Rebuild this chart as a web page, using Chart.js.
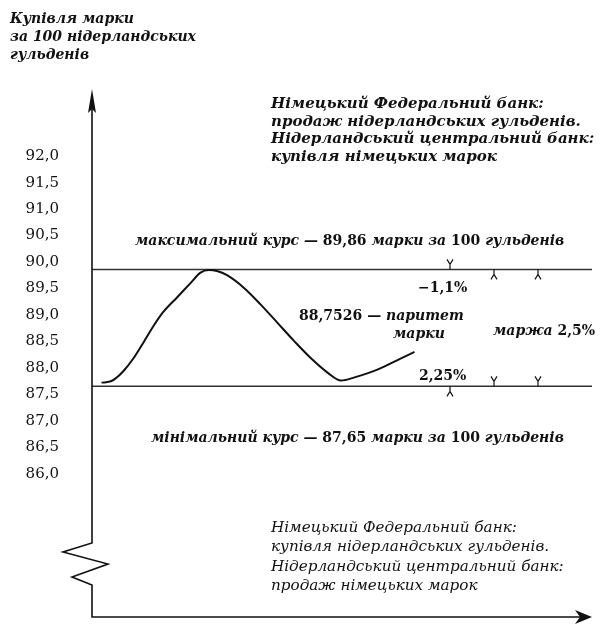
<!DOCTYPE html>
<html>
<head>
<meta charset="utf-8">
<script src="https://cdn.jsdelivr.net/npm/chart.js@4/dist/chart.umd.min.js"></script>
<style>
  html, body { margin: 0; padding: 0; background: #fff; }
  #chart { display: block; }
</style>
</head>
<body>
<canvas id="chart" width="600" height="641"></canvas>
<script>
// exchange rate path (t is just a position along the time axis, 0..100)
const curveT = [1.9, 3.6, 4.6, 6.3, 8.3, 10.3, 12.3, 14.3, 17.0, 19.7, 21.7, 23.4, 25.0,
  27.0, 30.4, 33.7, 37.1, 40.4, 43.8, 47.1, 49.8, 52.5, 57.2, 61.8, 64.5]
const curveRate = [87.72, 87.74, 87.79, 87.94, 88.18, 88.48, 88.79, 89.06, 89.33, 89.60, 89.80, 89.85, 89.83,
  89.75, 89.51, 89.20, 88.85, 88.51, 88.18, 87.91, 87.76, 87.82, 87.97, 88.18, 88.30]

// intervention limits and parity
const maxRate = 89.86
const minRate = 87.65
const parityRate = 88.7526

// y axis tick labels
const yTicks = [86.0, 86.5, 87.0, 87.5, 88.0, 88.5, 89.0, 89.5, 90.0, 90.5, 91.0, 91.5, 92.0]

const serif = '"DejaVu Serif", serif'
const fmt = (v, d) => v.toFixed(d).replace('.', ',')

// draw a line of text made of runs with different fonts
function drawRuns(ctx, runs, x, y) {
  runs.forEach(([text, font]) => {
    ctx.font = font
    ctx.fillText(text, x, y)
    x += ctx.measureText(text).width
  })
}

const decorations = {
  id: 'decorations',
  afterDraw(chart) {
    const { ctx, chartArea: a, scales: { x, y } } = chart
    ctx.save()
    ctx.strokeStyle = '#111'
    ctx.fillStyle = '#111'
    ctx.lineWidth = 1.6

    // y axis with break zigzag
    const L = a.left
    ctx.beginPath()
    ctx.moveTo(L, a.top + 10)
    ctx.lineTo(L, a.bottom - 74)
    ctx.lineTo(L - 29, a.bottom - 65)
    ctx.lineTo(L + 16, a.bottom - 53)
    ctx.lineTo(L - 20, a.bottom - 40)
    ctx.lineTo(L, a.bottom - 32)
    ctx.lineTo(L, a.bottom)
    ctx.lineTo(a.right - 10, a.bottom)
    ctx.stroke()

    // arrow heads
    ctx.beginPath()
    ctx.moveTo(L, a.top)
    ctx.lineTo(L + 4, a.top + 24)
    ctx.lineTo(L, a.top + 20)
    ctx.lineTo(L - 4, a.top + 24)
    ctx.closePath()
    ctx.fill()
    ctx.beginPath()
    ctx.moveTo(a.right, a.bottom)
    ctx.lineTo(a.right - 17, a.bottom - 7)
    ctx.lineTo(a.right - 12, a.bottom)
    ctx.lineTo(a.right - 17, a.bottom + 7)
    ctx.closePath()
    ctx.fill()

    // small fork marks on the limit lines
    const yMax = y.getPixelForValue(maxRate)
    const yMin = y.getPixelForValue(minRate)
    const fork = (px, py, dir) => {
      ctx.beginPath()
      ctx.moveTo(px, py)
      ctx.lineTo(px, py + dir * 5)
      ctx.moveTo(px - 3, py + dir * 10)
      ctx.lineTo(px, py + dir * 5)
      ctx.lineTo(px + 3, py + dir * 10)
      ctx.stroke()
    }
    ctx.lineWidth = 1.2
    fork(x.getPixelForValue(71.6), yMax, -1)
    fork(x.getPixelForValue(80.4), yMax, 1)
    fork(x.getPixelForValue(89.2), yMax, 1)
    fork(x.getPixelForValue(80.4), yMin, -1)
    fork(x.getPixelForValue(89.2), yMin, -1)
    fork(x.getPixelForValue(71.6), yMin, 1)

    // texts
    ctx.textAlign = 'left'
    ctx.textBaseline = 'alphabetic'
    ctx.font = 'italic bold 14px ' + serif
    ctx.fillText('Купівля марки', 10, 23)
    ctx.fillText('за 100 нідерландських', 10, 41)
    ctx.fillText('гульденів', 10, 59)

    ctx.font = 'italic bold 15px ' + serif
    ctx.fillText('Німецький Федеральний банк:', 271, 108)
    ctx.fillText('продаж нідерландських гульденів.', 271, 126)
    ctx.fillText('Нідерландський центральний банк:', 271, 143)
    ctx.fillText('купівля німецьких марок', 271, 161)

    const up = 'bold 14px ' + serif
    const it = 'italic bold 14px ' + serif
    drawRuns(ctx, [['максимальний курс — ', it], [fmt(maxRate, 2), up], [' марки за ', it], ['100', up], [' гульденів', it]], 135, 245)
    drawRuns(ctx, [['мінімальний курс — ', it], [fmt(minRate, 2), up], [' марки за ', it], ['100', up], [' гульденів', it]], 151, 442)

    drawRuns(ctx, [['−1,1%', up]], 418, 292)
    drawRuns(ctx, [[fmt(parityRate, 4) + ' — ', up], ['паритет', it]], 299, 320)
    drawRuns(ctx, [['марки', it]], 393, 338)
    drawRuns(ctx, [['маржа ', it], ['2,5%', up]], 493, 335)
    drawRuns(ctx, [['2,25%', up]], 419, 380)

    ctx.font = 'italic 15.2px ' + serif
    ctx.fillText('Німецький Федеральний банк:', 271, 532)
    ctx.fillText('купівля нідерландських гульденів.', 271, 551)
    ctx.fillText('Нідерландський центральний банк:', 271, 571)
    ctx.fillText('продаж німецьких марок', 271, 590)
    ctx.restore()
  }
}

const ctx = document.getElementById('chart').getContext('2d')
const chart = new Chart(ctx, {
  type: 'line',
  data: {
    datasets: [
      {
        data: curveT.map((t, i) => ({ x: t, y: curveRate[i] })),
        borderColor: '#111',
        borderWidth: 2,
        pointRadius: 0,
        tension: 0.4,
        cubicInterpolationMode: 'monotone'
      },
      {
        data: [{ x: 0, y: maxRate }, { x: 100, y: maxRate }],
        borderColor: '#333',
        borderWidth: 1.5,
        pointRadius: 0
      },
      {
        data: [{ x: 0, y: minRate }, { x: 100, y: minRate }],
        borderColor: '#333',
        borderWidth: 1.5,
        pointRadius: 0
      }
    ]
  },
  options: {
    responsive: false,
    animation: false,
    layout: { padding: { top: 89, right: 8, bottom: 24, left: 0 } },
    plugins: { legend: { display: false }, tooltip: { enabled: false } },
    scales: {
      x: { type: 'linear', min: 0, max: 100, display: false },
      y: {
        min: 83.29,
        max: 93.27,
        afterFit: (scale) => {
          // fixed axis gutter, and no extra label padding top/bottom
          scale.width = 92
          scale.paddingTop = 0
          scale.paddingBottom = 0
        },
        afterBuildTicks: (scale) => { scale.ticks = yTicks.map(v => ({ value: v })) },
        grid: { display: false, drawTicks: false },
        border: { display: false },
        ticks: {
          padding: 33,
          color: '#111',
          font: { family: serif, size: 15 },
          callback: (v) => fmt(v, 1)
        }
      }
    }
  },
  plugins: [decorations]
})
</script>
</body>
</html>
